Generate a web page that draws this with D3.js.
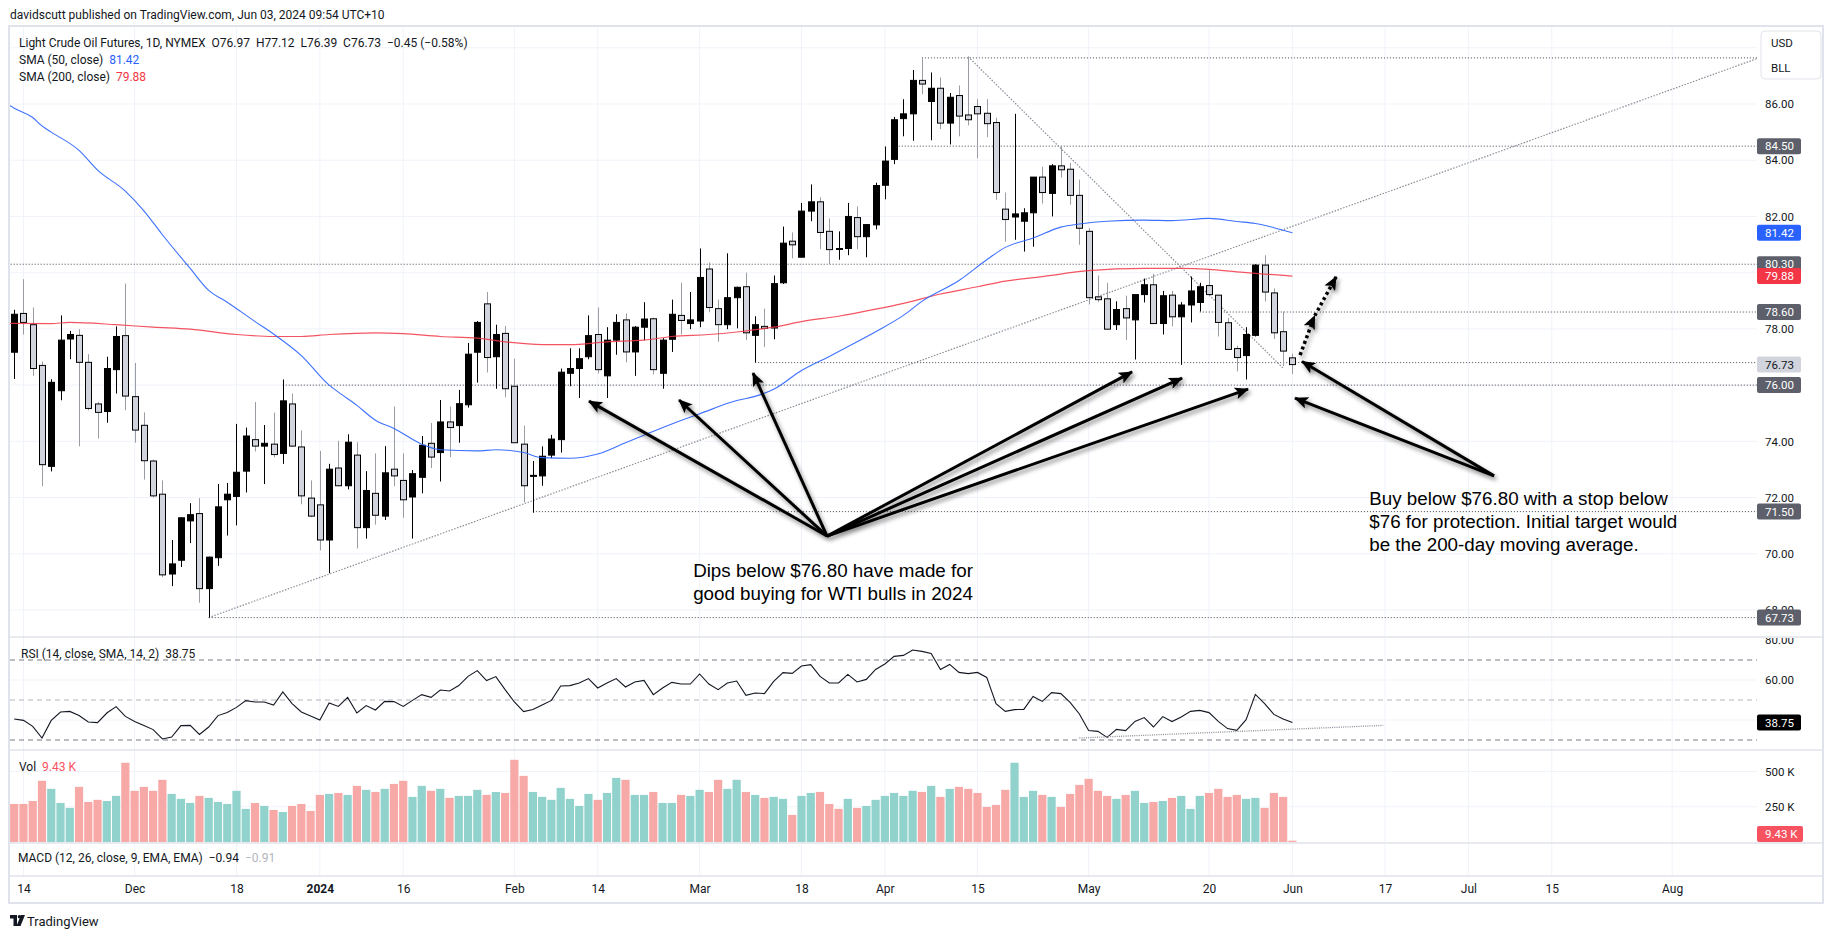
<!DOCTYPE html>
<html><head><meta charset="utf-8">
<script src="https://cdn.jsdelivr.net/npm/d3@7"></script>
<style>
html,body{margin:0;padding:0;background:#fff;}
svg{display:block;font-family:Roboto,"Liberation Sans",Arial,sans-serif;}
</style></head><body>
<svg id="c" width="1837" height="941"></svg>
<script>
// ---------- DATA ----------
// daily candles [open, high, low, close], bar 0 = 2023-11-13 ... bar 138 = 2024-06-03
const candles = [
[77.17,78.68,76.22,78.52],[78.55,79.77,77.80,78.23],[78.15,78.76,76.33,76.59],[76.70,76.84,72.40,73.17],[73.11,76.21,72.93,76.10],
[75.80,78.48,75.46,77.60],[77.64,77.93,76.92,77.80],[77.77,77.99,73.82,76.81],[76.81,77.10,75.10,75.17],[75.33,75.40,74.10,75.03],
[75.06,77.01,74.66,76.59],[76.55,78.09,75.70,77.73],[77.76,79.61,75.11,75.61],[75.59,76.79,73.95,74.40],[74.57,75.03,72.64,73.31],
[73.30,73.35,72.00,72.06],[72.12,72.61,69.17,69.25],[69.28,70.49,68.85,69.64],[69.77,71.30,69.53,71.28],[71.17,71.80,70.38,71.39],
[71.43,71.98,68.26,68.76],[68.76,69.90,67.73,69.88],[69.86,72.48,69.57,71.67],[71.92,72.52,70.65,72.12],[72.04,74.62,71.01,72.90],
[72.94,74.49,72.18,74.19],[74.06,75.40,73.64,73.83],[73.83,74.58,72.48,73.93],[73.90,75.02,73.43,73.53],[73.57,76.20,73.20,75.44],
[75.33,75.70,73.80,73.83],[73.80,74.39,71.76,72.06],[71.98,72.61,71.30,71.34],[71.74,73.66,70.12,70.49],[70.49,73.20,69.31,73.01],
[73.05,74.02,72.40,72.42],[72.42,74.25,72.29,73.97],[73.51,73.97,70.19,70.93],[70.93,72.94,70.54,72.25],[72.15,73.57,71.04,71.37],
[71.34,73.83,71.20,72.88],[73.01,75.24,72.40,72.77],[72.61,73.57,71.28,71.92],[72.02,72.98,70.54,72.85],[72.72,74.19,72.15,73.86],
[73.93,74.65,73.05,73.44],[73.60,75.47,72.57,74.69],[74.69,75.24,73.44,74.49],[74.56,75.83,73.95,75.34],[75.30,77.50,75.20,77.10],
[77.17,78.28,76.09,78.23],[78.89,79.31,76.45,76.98],[77.01,78.15,75.87,77.80],[77.84,78.10,75.57,75.87],[75.96,76.94,73.95,73.95],
[73.90,74.56,71.83,72.42],[72.76,73.30,71.46,72.79],[72.77,73.82,72.42,73.47],[73.51,74.23,73.40,74.08],[74.06,76.59,73.60,76.46],
[76.42,77.31,75.96,76.59],[76.59,77.31,75.54,76.94],[77.01,78.48,76.92,77.76],[77.80,78.76,76.42,76.55],[76.33,78.06,75.54,77.60],
[77.60,78.52,77.08,78.23],[78.32,78.55,76.81,77.18],[77.18,78.10,76.33,78.06],[78.06,78.95,77.60,78.35],[78.36,78.40,76.38,76.55],
[76.42,77.67,75.87,77.60],[77.63,79.04,77.18,78.52],[78.48,79.64,77.80,78.30],[78.19,79.31,77.99,78.32],[78.28,80.86,78.06,79.83],
[80.13,80.36,78.59,78.76],[78.72,79.04,77.54,78.15],[78.15,80.69,77.99,79.11],[79.11,79.50,78.02,79.48],[79.50,80.00,77.60,77.86],
[77.77,78.45,76.81,78.15],[78.09,78.72,77.36,78.02],[78.03,79.90,77.63,79.61],[79.64,81.64,79.60,81.05],[81.12,81.43,80.51,80.99],
[80.55,82.48,80.55,82.19],[82.19,83.14,81.83,82.52],[82.52,82.68,80.84,81.43],[81.47,81.93,80.29,80.82],[80.84,81.47,80.46,80.86],
[80.86,82.48,80.62,82.00],[81.96,82.36,80.84,81.28],[81.28,81.73,80.55,81.71],[81.70,83.20,81.54,83.10],[83.11,84.49,82.61,83.97],
[84.03,85.54,83.86,85.44],[85.48,86.17,84.85,85.65],[85.65,87.21,84.69,86.84],[86.84,87.64,86.35,86.71],[86.09,87.12,84.71,86.56],
[86.56,86.94,85.11,85.32],[85.32,86.39,84.56,86.24],[86.30,86.66,84.85,85.57],[85.61,87.68,85.24,85.44],[85.91,86.17,84.07,85.65],
[85.67,86.17,84.82,85.30],[85.34,85.51,82.59,82.85],[82.26,82.85,81.10,81.89],[81.98,85.65,81.17,82.09],[81.83,82.29,80.75,82.13],
[82.13,83.40,80.92,83.40],[83.40,83.77,82.46,82.85],[82.82,83.86,82.00,83.80],[83.80,84.52,83.38,83.66],[83.68,83.90,82.42,82.75],
[82.75,83.31,80.99,81.58],[81.47,81.58,78.87,79.11],[79.14,79.90,78.95,79.04],[79.07,79.64,77.97,77.99],[78.15,78.98,77.96,78.69],
[78.72,79.18,77.60,78.39],[78.32,79.22,76.91,79.22],[79.22,79.79,78.94,79.57],[79.57,79.96,78.19,78.19],[78.19,79.35,77.80,79.18],
[79.20,79.35,78.09,78.43],[78.43,78.95,76.72,78.85],[78.85,79.86,78.23,79.35],[78.94,79.64,78.62,79.50],[79.54,80.09,79.22,79.22],
[79.20,79.20,77.73,78.23],[78.22,78.39,77.27,77.27],[77.30,77.40,76.49,76.98],[77.05,78.06,76.20,77.80],[77.77,80.30,77.73,80.27],
[80.27,80.62,78.98,79.31],[79.28,79.44,77.64,77.86],[77.90,78.62,76.68,77.21],[76.97,77.12,76.39,76.73]
];
// volume in thousands
const volumes = [
270,270,291,434,377,277,242,391,284,299, 291,327,562,363,391,363,441,341,306,277,
327,313,284,270,363,235,277,256,227,213, 256,270,220,334,341,348,334,398,370,355,
377,412,434,320,398,363,377,313,327,327, 370,334,355,348,583,469,355,320,299,384,
306,256,341,299,348,455,441,334,334,355, 277,277,334,327,370,355,441,377,441,355,
334,313,320,306,192,327,348,355,270,235, 306,242,256,299,327,348,327,363,355,398,
320,377,391,377,348,249,263,370,562,320, 363,334,320,249,341,405,448,363,327,306,
334,363,277,284,291,313,327,235,327,348, 377,320,334,306,313,242,348,320,9.43
];
const volRedOverride = [0, 89];
// RSI(14)
const rsi = [
40.5,39.8,36.8,31.0,39.8,44.0,44.3,42.2,39.0,38.7, 43.5,46.7,41.8,39.3,37.3,35.2,30.5,31.5,37.2,37.3,
32.8,36.5,42.2,43.8,46.3,49.7,49.0,49.0,47.5,54.0, 48.2,44.0,42.0,40.0,48.5,46.8,51.3,43.5,47.2,45.0,
49.3,49.2,46.8,49.8,52.7,51.3,55.0,54.5,57.2,61.8, 64.7,59.7,61.7,55.2,49.0,44.2,45.2,47.5,49.8,57.0,
57.2,58.5,60.7,56.0,58.5,60.7,56.5,59.0,59.8,52.7, 56.0,58.8,58.0,58.0,63.0,58.0,55.2,58.5,59.5,52.3,
53.5,53.2,59.3,63.7,63.3,67.0,67.7,61.8,58.5,58.5, 62.8,59.0,60.3,65.3,68.0,71.8,72.3,75.0,74.3,73.3,
65.2,67.8,63.8,63.2,63.8,61.3,48.2,44.3,45.2,45.3, 51.8,49.3,53.7,53.2,48.8,43.0,34.7,34.3,31.3,35.3,
34.7,39.3,41.2,36.5,41.7,39.2,41.5,44.3,44.8,43.7, 39.3,35.7,34.8,40.2,52.8,48.2,42.8,40.5,38.75
];
// moving averages [bar, value]
const sma50 = [[-1,86.05],[0,85.85],[2,85.52],[3,85.22],[4,85.0],[7,84.35],[9,83.65],[12,82.9],[14,82.2],[16,81.35],[19,80.15],
[21,79.37],[23,78.95],[26,78.26],[28,77.82],[31,77.05],[34,76.0],[35,75.75],[37,75.28],[39,74.75],[41,74.46],[44,73.9],
[46,73.70],[50,73.66],[52,73.70],[55,73.6],[57,73.42],[60,73.40],[63,73.55],[66,73.95],[68,74.22],[71,74.62],[74,74.98],
[78,75.45],[80,75.6],[82,75.85],[85,76.52],[88,77.02],[91,77.54],[93,77.9],[96,78.48],[98,78.98],[102,79.72],[105,80.46],
[107,80.9],[110,81.23],[113,81.62],[115,81.73],[118,81.83],[122,81.87],[125,81.85],[129,81.93],[132,81.82],[134,81.75],
[136,81.6],[138,81.42]];
const sma200 = [[-1,78.2],[4,78.19],[6,78.23],[11,78.15],[15,78.06],[19,77.99],[24,77.80],[28,77.73],[31,77.73],[34,77.80],
[39,77.86],[42,77.83],[46,77.73],[50,77.67],[53,77.54],[57,77.44],[60,77.44],[64,77.54],[68,77.60],[71,77.73],[75,77.80],
[78,77.89],[82,78.06],[85,78.26],[89,78.45],[93,78.70],[96,78.91],[100,79.24],[104,79.50],[107,79.70],[111,79.86],
[116,80.07],[122,80.15],[126,80.15],[129,80.12],[132,80.03],[138,79.88]];
// x axis ticks (bar index -> label)
const tickIdx = [1,13,24,33,42,54,63,74,85,94,104,116,129,138,148,157,166,179];
const tickLabels = ["14","Dec","18","2024","16","Feb","14","Mar","18","Apr","15","May","20","Jun","17","Jul","15","Aug"];
const priceGrid = [88,86,84,82,80,78,76,74,72,70,68];
const priceTicks = [86,84,82,80,78,76,74,72,70,68];
const rsiTicks = [80,60,40];
const volTicks = [500,250];
// drawings: horizontal levels [price, start bar]
const levels = [[87.64,98],[84.50,95.5],[80.30,-2],[78.60,128],[76.80,80],[76.00,29],[71.50,56],[67.73,21]];
const levelBadges = [84.50,80.30,78.60,76.00,71.50,67.73];
const trendLines = [[[21,67.73],[188.2,87.62]],[[103,87.68],[137,76.6]]];
const rsiTrend = [[115,31],[147.8,37.3]];
const arrowGroup1 = {from:[87.76,70.63], to:[[62.06,75.43],[71.78,75.47],[79.77,76.43],[120.69,76.47],[126.09,76.25],[133.21,75.86]]};
const arrowGroup2 = {from:[159.77,72.77], to:[[139.04,76.84],[138.28,75.54]]};
const dottedArrow = [[138.83,77.07],[140.4,78.46],[142.72,79.85]];
const note1 = {at:[73.3,69.42], lines:["Dips below $76.80 have made for","good buying for WTI bulls in 2024"]};
const note2 = {at:[146.3,71.98], lines:["Buy below $76.80 with a stop below","$76 for protection. Initial target would","be the 200-day moving average."]};

// ---------- LAYOUT ----------
const PL=10, PR=1757, AXR=1823;
const frameTop=26, mainBot=637, rsiBot=750, volBot=843, macdBot=876, frameBot=903;
const TXT="#131722", GRID="#f0f3fa", SEP="#e0e3eb";
const svg = d3.select('#c');
const x = d3.scaleLinear().domain([0,138]).range([14.2,1292.4]);
const y = d3.scaleLinear().domain([68,86]).range([610,104]);
const yR = d3.scaleLinear().domain([30,70]).range([740,660]);
const yV = d3.scaleLinear().domain([0,500]).range([842,771.5]);

const defs = svg.append('defs');
function clip(id,x0,y0,x1,y1){defs.append('clipPath').attr('id',id).append('rect').attr('x',x0).attr('y',y0).attr('width',x1-x0).attr('height',y1-y0);}
clip('cm',PL,frameTop+1,PR,mainBot);
clip('cr',PL,mainBot,PR,rsiBot);
clip('cv',PL,rsiBot,PR,volBot);
clip('cra',PR,mainBot+1,AXR,rsiBot);
const f = defs.append('filter').attr('id','sh').attr('x','-20%').attr('y','-20%').attr('width','140%').attr('height','140%');
f.append('feDropShadow').attr('dx',2).attr('dy',3).attr('stdDeviation',2).attr('flood-color','#000').attr('flood-opacity',0.45);
defs.append('marker').attr('id','ah').attr('markerUnits','userSpaceOnUse').attr('viewBox','0 0 14 12')
  .attr('markerWidth',15).attr('markerHeight',12).attr('refX',13).attr('refY',6).attr('orient','auto')
  .append('path').attr('d','M0,0 L14,6 L0,12 L3,6 Z').attr('fill','#000');

// header
svg.append('text').attr('x',10).attr('y',15).attr('dy','0.35em').attr('font-size',12).attr('fill',TXT)
  .text('davidscutt published on TradingView.com, Jun 03, 2024 09:54 UTC+10');

// grid
const grid = svg.append('g');
tickIdx.forEach(i=>{ grid.append('line').attr('x1',x(i)).attr('x2',x(i)).attr('y1',frameTop).attr('y2',macdBot).attr('stroke',GRID); });
priceGrid.forEach(p=>{ grid.append('line').attr('x1',PL).attr('x2',PR).attr('y1',y(p)).attr('y2',y(p)).attr('stroke',GRID); });
[60,40].forEach(v=>{ grid.append('line').attr('x1',PL).attr('x2',PR).attr('y1',yR(v)).attr('y2',yR(v)).attr('stroke',GRID); });
volTicks.forEach(v=>{ grid.append('line').attr('x1',PL).attr('x2',PR).attr('y1',yV(v)).attr('y2',yV(v)).attr('stroke',GRID); });

// ---------- MAIN PANE ----------
const main = svg.append('g').attr('clip-path','url(#cm)');
levels.forEach(([p,s])=>{
  main.append('line').attr('x1',x(s)).attr('x2',PR).attr('y1',y(p)).attr('y2',y(p))
    .attr('stroke','#434651').attr('stroke-width',1).attr('stroke-dasharray','1,2');
});
trendLines.forEach(([a,b])=>{
  main.append('line').attr('x1',x(a[0])).attr('y1',y(a[1])).attr('x2',x(b[0])).attr('y2',y(b[1]))
    .attr('stroke','#8a8d96').attr('stroke-width',1.2).attr('stroke-dasharray','1.5,1.5');
});
// candles
const cg = main.append('g');
candles.forEach((d,i)=>{
  const [o,h,l,c]=d; const up = c>=o; const cx = Math.round(x(i))+0.5;
  cg.append('line').attr('x1',cx).attr('x2',cx).attr('y1',y(h)).attr('y2',y(l))
    .attr('stroke', up?'#000':'#9a9ca3').attr('stroke-width',1);
  const top = y(Math.max(o,c)), bot = y(Math.min(o,c));
  cg.append('rect').attr('x',cx-3).attr('width',6).attr('y',top).attr('height',Math.max(1,bot-top))
    .attr('fill', up?'#000':'#d1d4dc').attr('stroke','#000').attr('stroke-width',1);
});
// SMA lines
const smaLine = d3.line().x(d=>x(d[0])).y(d=>y(d[1])).curve(d3.curveMonotoneX);
main.append('path').datum(sma200).attr('d',smaLine).attr('fill','none').attr('stroke','#f23645').attr('stroke-width',1.2).attr('opacity',0.85);
main.append('path').datum(sma50).attr('d',smaLine).attr('fill','none').attr('stroke','#2962ff').attr('stroke-width',1.1).attr('opacity',0.9);

// arrows
const ag = svg.append('g').attr('filter','url(#sh)');
[arrowGroup1,arrowGroup2].forEach(gp=>{
  gp.to.forEach(t=>{
    ag.append('line').attr('x1',x(gp.from[0])).attr('y1',y(gp.from[1])).attr('x2',x(t[0])).attr('y2',y(t[1]))
      .attr('stroke','#000').attr('stroke-width',3).attr('marker-end','url(#ah)');
  });
});
ag.append('path').datum(dottedArrow).attr('d',d3.line().x(d=>x(d[0])).y(d=>y(d[1])))
  .attr('fill','none').attr('stroke','#000').attr('stroke-width',3.5).attr('stroke-dasharray','3,3')
  .attr('marker-mid','url(#ah)').attr('marker-end','url(#ah)');

// notes
[note1,note2].forEach(n=>{
  const t = svg.append('text').attr('font-family','"Liberation Sans",Arial,sans-serif').attr('font-size',18.8).attr('fill','#000');
  n.lines.forEach((ln,k)=>{
    t.append('tspan').attr('x',x(n.at[0])).attr('y',y(n.at[1])+k*23).attr('dy','0.35em').text(ln);
  });
});

// legend
const lg = svg.append('g').attr('font-size',12).attr('fill',TXT);
lg.append('text').attr('x',19).attr('y',43).attr('dy','0.35em').attr('xml:space','preserve')
  .text('Light Crude Oil Futures, 1D, NYMEX  O76.97  H77.12  L76.39  C76.73  \u22120.45 (\u22120.58%)');
const l2 = lg.append('text').attr('x',19).attr('y',60).attr('dy','0.35em').attr('xml:space','preserve');
l2.append('tspan').text('SMA (50, close)  '); l2.append('tspan').attr('fill','#2962ff').text('81.42');
const l3 = lg.append('text').attr('x',19).attr('y',76.5).attr('dy','0.35em').attr('xml:space','preserve');
l3.append('tspan').text('SMA (200, close)  '); l3.append('tspan').attr('fill','#f23645').text('79.88');

// ---------- RSI PANE ----------
const rp = svg.append('g').attr('clip-path','url(#cr)');
[[70,'#787b86',1],[50,'#787b86',0.55],[30,'#787b86',1]].forEach(([v,c,op])=>{
  rp.append('line').attr('x1',PL).attr('x2',PR).attr('y1',yR(v)).attr('y2',yR(v)).attr('stroke',c).attr('opacity',op)
    .attr('stroke-width',1).attr('stroke-dasharray','5,4');
});
rp.append('path').datum(rsi).attr('d',d3.line().x((d,i)=>x(i)).y(d=>yR(d))).attr('fill','none').attr('stroke','#131722').attr('stroke-width',1.1);
rp.append('line').attr('x1',x(rsiTrend[0][0])).attr('y1',yR(rsiTrend[0][1])).attr('x2',x(rsiTrend[1][0])).attr('y2',yR(rsiTrend[1][1]))
  .attr('stroke','#8a8d96').attr('stroke-width',1.3).attr('stroke-dasharray','1,1.2');
const rl = svg.append('text').attr('x',21).attr('y',654).attr('dy','0.35em').attr('font-size',12).attr('fill',TXT).attr('xml:space','preserve');
rl.append('tspan').text('RSI (14, close, SMA, 14, 2)  38.75');

// ---------- VOLUME PANE ----------
const vp = svg.append('g').attr('clip-path','url(#cv)');
volumes.forEach((v,i)=>{
  const c = candles[i]; let up = c[3]>=c[0]; if (volRedOverride.includes(i)) up=false;
  vp.append('rect').attr('x',x(i)-4.1).attr('width',8.2).attr('y',yV(v)).attr('height',yV(0)-yV(v))
    .attr('fill', up?'#92d2cc':'#f7a9a7');
});
const vl = svg.append('text').attr('x',19).attr('y',767).attr('dy','0.35em').attr('font-size',12).attr('fill',TXT).attr('xml:space','preserve');
vl.append('tspan').text('Vol  '); vl.append('tspan').attr('fill','#f7525f').text('9.43 K');

// MACD label
const ml = svg.append('text').attr('x',18).attr('y',858).attr('dy','0.35em').attr('font-size',12).attr('fill',TXT).attr('xml:space','preserve');
ml.append('tspan').text('MACD (12, 26, close, 9, EMA, EMA)  \u22120.94  '); ml.append('tspan').attr('fill','#b2b5be').text('\u22120.91');

// ---------- AXES ----------
const pa = svg.append('g').attr('transform',`translate(${PR},0)`)
  .call(d3.axisRight(y).tickValues(priceTicks).tickFormat(d3.format('.2f')).tickSize(0).tickPadding(8));
const ra = svg.append('g').attr('clip-path','url(#cra)').append('g').attr('transform',`translate(${PR},0)`)
  .call(d3.axisRight(yR).tickValues(rsiTicks).tickFormat(d3.format('.2f')).tickSize(0).tickPadding(8));
const va = svg.append('g').attr('transform',`translate(${PR},0)`)
  .call(d3.axisRight(yV).tickValues(volTicks).tickFormat(d=>d+' K').tickSize(0).tickPadding(8));
const xa = svg.append('g').attr('transform',`translate(0,${macdBot})`)
  .call(d3.axisBottom(x).tickValues(tickIdx).tickFormat((d,k)=>tickLabels[k]).tickSize(0).tickPadding(8));
[pa,ra,va,xa].forEach(a=>{ a.select('.domain').remove(); a.selectAll('text').attr('font-size',11.5).attr('fill',TXT).attr('font-family','Roboto,"Liberation Sans",sans-serif'); });
xa.selectAll('text').attr('font-size',12).filter((d,k)=>tickLabels[k]==='2024').attr('font-weight','bold');

// badges
const bg = svg.append('g').attr('font-size',11.5).attr('font-family','Roboto,"Liberation Sans",sans-serif');
function badge(yc,txt,fill,fg,w){
  bg.append('rect').attr('x',PR).attr('y',yc-8).attr('width',w||44).attr('height',16).attr('rx',2).attr('fill',fill);
  bg.append('text').attr('x',PR+8).attr('y',yc).attr('dy','0.35em').attr('fill',fg).text(txt);
}
levelBadges.forEach(p=>{ if(p!==80.30) badge(y(p),d3.format('.2f')(p),'#5d606b','#fff'); });
badge(y(81.42),'81.42','#2962ff','#fff');
badge(y(80.30),'80.30','#5d606b','#fff');
badge(y(79.88),'79.88','#f23645','#fff');
badge(y(76.73),'76.73','#d1d4dc','#131722');
badge(yR(rsi[rsi.length-1]),'38.75','#000','#fff');
badge(Math.min(yV(volumes[volumes.length-1]),volBot-9),'9.43 K','#f7525f','#fff',46);

// USD / BLL box
svg.append('rect').attr('x',1761).attr('y',31).attr('width',60).attr('height',48).attr('rx',4).attr('fill','#fff').attr('stroke',SEP);
svg.append('text').attr('x',1771).attr('y',42.5).attr('dy','0.35em').attr('font-size',11.5).attr('fill',TXT).text('USD');
svg.append('text').attr('x',1771).attr('y',68).attr('dy','0.35em').attr('font-size',11.5).attr('fill',TXT).text('BLL');

// frame & separators
[mainBot,rsiBot,volBot].forEach(v=>{ svg.append('line').attr('x1',PL).attr('x2',AXR).attr('y1',v).attr('y2',v).attr('stroke',SEP).attr('stroke-width',1.5); });
svg.append('line').attr('x1',PL).attr('x2',AXR).attr('y1',macdBot).attr('y2',macdBot).attr('stroke',SEP).attr('stroke-width',1.5);
svg.append('rect').attr('x',9).attr('y',frameTop).attr('width',AXR-9).attr('height',frameBot-frameTop).attr('fill','none').attr('stroke',SEP).attr('stroke-width',2);

// TradingView logo
const tv = svg.append('g').attr('transform','translate(10,915)');
tv.append('path').attr('d','M0,0 H7 V11 H3.5 V3.5 H0 Z').attr('fill','#131722');
tv.append('circle').attr('cx',9.5).attr('cy',1.8).attr('r',1.8).attr('fill','#131722');
tv.append('path').attr('d','M11,0 H15 L10.5,11 H6.5 Z').attr('fill','#131722');
svg.append('text').attr('x',27).attr('y',921.5).attr('dy','0.35em').attr('font-size',13).attr('fill',TXT).text('TradingView');
</script>
</body></html>
